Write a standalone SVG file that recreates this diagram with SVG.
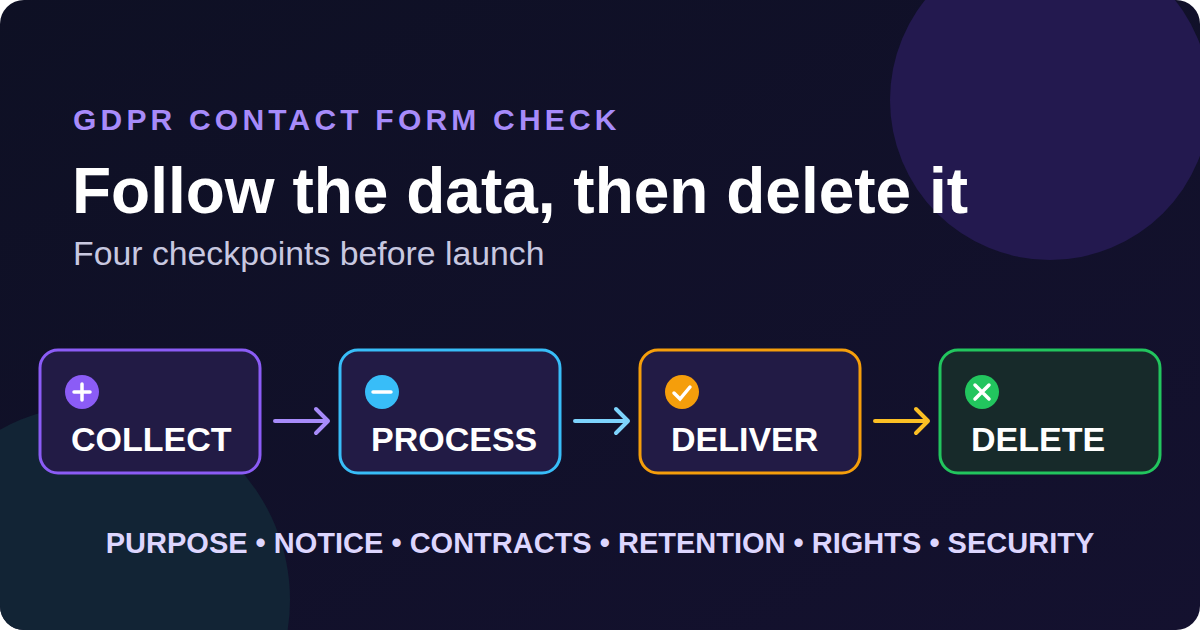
<svg xmlns="http://www.w3.org/2000/svg" width="1200" height="630" viewBox="0 0 1200 630">
<defs>
<linearGradient id="bg" x1="0" y1="0" x2="1" y2="1"><stop offset="0" stop-color="#0e1024"/><stop offset="1" stop-color="#14112f"/></linearGradient>
<clipPath id="card"><rect width="1200" height="630" rx="24"/></clipPath>
</defs>
<style>
.box{stroke-width:3}
.lbl{font-family:"Liberation Sans",Arial,sans-serif;font-weight:700;font-size:34px;fill:#fff}
.arr{fill:none;stroke-width:4;stroke-linecap:round;stroke-linejoin:round}
.ic{stroke:#fff;stroke-width:3.5;stroke-linecap:round;fill:none}
</style>
<rect width="1200" height="630" fill="#fff"/>
<g clip-path="url(#card)">
<rect width="1200" height="630" fill="url(#bg)"/>
<circle cx="1050" cy="100" r="160" fill="#23194f"/>
<circle cx="95" cy="600" r="195" fill="#122435"/>
</g>
<text x="73" y="130" font-family="Liberation Sans,Arial,sans-serif" font-weight="700" font-size="30" letter-spacing="4.2" fill="#a78bfa">GDPR CONTACT FORM CHECK</text>
<text x="72" y="213" font-family="Liberation Sans,Arial,sans-serif" font-weight="700" font-size="64" fill="#fff">Follow the data, then delete it</text>
<text x="73" y="265" font-family="Liberation Sans,Arial,sans-serif" font-size="33.8" fill="#c8c8e0">Four checkpoints before launch</text>
<g id="collect">
<rect class="box" x="40" y="350" width="220" height="123" rx="18" fill="#221b45" stroke="#8b5cf6"/>
<circle cx="82" cy="392" r="17" fill="#8b5cf6"/>
<path class="ic" d="M82 384v16M74 392h16"/>
<text class="lbl" x="71" y="451">COLLECT</text>
</g>
<g id="process">
<rect class="box" x="340" y="350" width="220" height="123" rx="18" fill="#221b45" stroke="#38bdf8"/>
<circle cx="382" cy="392" r="17" fill="#38bdf8"/>
<path class="ic" d="M373 392h18"/>
<text class="lbl" x="371" y="451">PROCESS</text>
</g>
<g id="deliver">
<rect class="box" x="640" y="350" width="220" height="123" rx="18" fill="#221b45" stroke="#f59e0b"/>
<circle cx="682" cy="392" r="17" fill="#f59e0b"/>
<path class="ic" d="M674 393l6 6 10-12"/>
<text class="lbl" x="671" y="451">DELIVER</text>
</g>
<g id="delete">
<rect class="box" x="940" y="350" width="220" height="123" rx="18" fill="#172a2a" stroke="#22c55e"/>
<circle cx="982" cy="392" r="17" fill="#22c55e"/>
<path class="ic" d="M975 385l14 14M989 385l-14 14"/>
<text class="lbl" x="971" y="451">DELETE</text>
</g>
<g id="connectors">
<path class="arr" stroke="#a78bfa" d="M275 421h53M316 409l12 12-12 12"/>
<path class="arr" stroke="#7dd3fc" d="M575 421h53M616 409l12 12-12 12"/>
<path class="arr" stroke="#fbbf24" d="M875 421h53M916 409l12 12-12 12"/>
</g>
<text x="600" y="553" text-anchor="middle" font-family="Liberation Sans,Arial,sans-serif" font-weight="700" font-size="29" fill="#ddd6fe">PURPOSE • NOTICE • CONTRACTS • RETENTION • RIGHTS • SECURITY</text>
</svg>
